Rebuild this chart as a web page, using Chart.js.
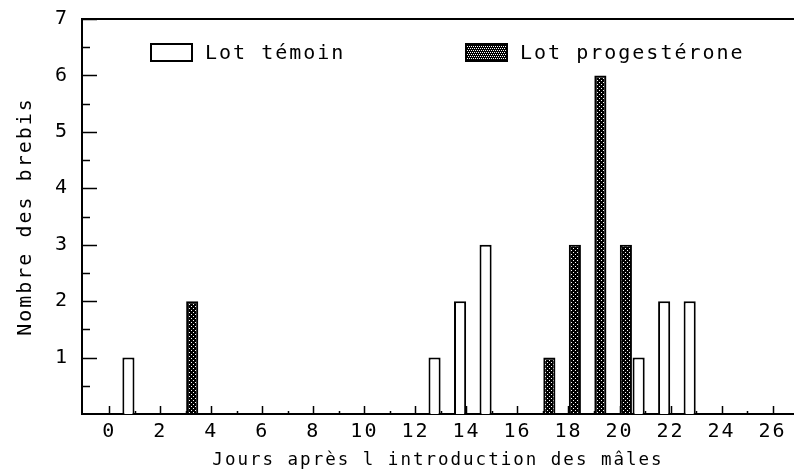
<!DOCTYPE html>
<html>
<head>
<meta charset="utf-8">
<script src="https://cdn.jsdelivr.net/npm/chart.js@4/dist/chart.umd.min.js"></script>
<style>
  html, body { margin: 0; padding: 0; background: #fff; }
  #wrap { width: 794px; height: 471px; }
</style>
</head>
<body>
<div id="wrap"><canvas id="c" width="794" height="471"></canvas></div>
<script>
// Days after the rams were introduced, and how many ewes in each lot
const temoinDays = [1, 13, 14, 15, 21, 22, 23];
const temoinCounts = [1, 1, 2, 3, 1, 2, 2];
const progDays = [3, 17, 18, 19, 20];
const progCounts = [2, 1, 3, 6, 3];
const seriesNames = ['Lot témoin', 'Lot progestérone'];

// Axis marks: one per day, labelled every second day; half-unit marks on the count axis
const xTickDays = [0, 1, 2, 3, 4, 5, 6, 7, 8, 9, 10, 11, 12, 13, 14, 15, 16, 17, 18, 19, 20, 21, 22, 23, 24, 25, 26];
const yTickValues = [0.5, 1, 1.5, 2, 2.5, 3, 3.5, 4, 4.5, 5, 5.5, 6, 6.5, 7];
const xAxisTitle = 'Jours après l introduction des mâles';
const yAxisTitle = 'Nombre des brebis';

const MONO = '"DejaVu Sans Mono", "Liberation Mono", monospace';
const canvas = document.getElementById('c');
const mainCtx = canvas.getContext('2d');

// Black fill speckled with white dots
function speckle(dots) {
  const tile = document.createElement('canvas');
  tile.width = 4; tile.height = 4;
  const g = tile.getContext('2d');
  g.fillStyle = '#000';
  g.fillRect(0, 0, 4, 4);
  g.fillStyle = '#fff';
  dots.forEach(([px, py]) => g.fillRect(px, py, 1, 1));
  return mainCtx.createPattern(tile, 'repeat');
}
const barPattern = speckle([[1, 0], [3, 2]]);
const keyPattern = speckle([[0, 0], [2, 0], [1, 2], [3, 2]]);

// Wide lettering for every text drawn on the canvas
const spacing = {
  id: 'spacing',
  beforeUpdate(chart) { chart.ctx.letterSpacing = '2px'; },
  beforeLayout(chart) { chart.ctx.letterSpacing = '2px'; },
  beforeDraw(chart) { chart.ctx.letterSpacing = '2px'; }
};

// Tick marks pointing into the plot
const innerTicks = {
  id: 'innerTicks',
  beforeDatasetsDraw(chart) {
    const { ctx, chartArea: a, scales: { x, y } } = chart;
    ctx.save();
    ctx.strokeStyle = '#000';
    ctx.lineWidth = 1.5;
    ctx.beginPath();
    xTickDays.forEach(d => {
      const px = Math.round(x.getPixelForValue(d)) + 0.5;
      const len = d % 2 === 0 ? 8 : 3;
      ctx.moveTo(px, a.bottom);
      ctx.lineTo(px, a.bottom - len);
    });
    yTickValues.forEach(v => {
      const py = Math.round(y.getPixelForValue(v)) + 0.5;
      const len = Number.isInteger(v) ? 15 : 8;
      ctx.moveTo(a.left, py);
      ctx.lineTo(a.left + len, py);
    });
    ctx.stroke();
    ctx.restore();
  }
};

// Key placed inside the plot, below the top frame line
const insetLegend = {
  id: 'insetLegend',
  afterDatasetsDraw(chart) {
    const { ctx, chartArea: a } = chart;
    const slots = [a.left + 68, a.left + 383];
    const fills = ['#fff', keyPattern];
    const top = a.top + 24, bw = 43, bh = 19;
    ctx.save();
    ctx.font = '20px ' + MONO;
    ctx.textBaseline = 'middle';
    chart.data.datasets.forEach((ds, i) => {
      const x = slots[i];
      ctx.fillStyle = fills[i];
      ctx.fillRect(x, top, bw, bh);
      ctx.lineWidth = 2;
      ctx.strokeStyle = '#000';
      ctx.strokeRect(x + 1, top + 1, bw - 2, bh - 2);
      ctx.fillStyle = '#000';
      ctx.fillText(ds.label, x + bw + 12, top + bh / 2 + 1);
    });
    ctx.restore();
  }
};

const tickFont = { family: MONO, size: 20 };

new Chart(canvas, {
  type: 'bar',
  data: {
    datasets: [
      {
        label: seriesNames[0],
        data: temoinDays.map((d, i) => ({ x: d, y: temoinCounts[i] })),
        backgroundColor: '#fff',
        borderColor: '#000',
        borderWidth: 2
      },
      {
        label: seriesNames[1],
        data: progDays.map((d, i) => ({ x: d, y: progCounts[i] })),
        backgroundColor: barPattern,
        borderColor: '#000',
        borderWidth: 2
      }
    ]
  },
  options: {
    responsive: false,
    animation: false,
    devicePixelRatio: 1,
    layout: { padding: 0 },
    datasets: { bar: { categoryPercentage: 1, barPercentage: 0.95, borderSkipped: 'start' } },
    plugins: {
      legend: { display: false },
      tooltip: { enabled: false }
    },
    scales: {
      x: {
        type: 'linear',
        position: 'bottom',
        offset: false,
        min: -1.07,
        max: 26.84,
        afterBuildTicks: s => { s.ticks = xTickDays.map(v => ({ value: v })); },
        afterFit: s => { s.height = 57; s.paddingLeft = 0; s.paddingRight = 0; },
        grid: { display: false, drawTicks: false, offset: false },
        border: { display: true, color: '#000', width: 2 },
        ticks: {
          autoSkip: false,
          maxRotation: 0,
          padding: 6,
          color: '#000',
          font: tickFont,
          callback: v => (v % 2 === 0 ? String(v) : '')
        },
        title: {
          display: true,
          text: xAxisTitle,
          color: '#000',
          font: { family: MONO, size: 17.5 },
          padding: { top: 0, bottom: 0 }
        }
      },
      x2: {
        type: 'linear',
        position: 'top',
        offset: false,
        afterFit: s => { s.height = 19; s.paddingLeft = 0; s.paddingRight = 0; },
        grid: { display: false, drawTicks: false },
        border: { display: true, color: '#000', width: 2 },
        ticks: { display: false }
      },
      y: {
        type: 'linear',
        min: 0,
        max: 7,
        afterBuildTicks: s => { s.ticks = yTickValues.map(v => ({ value: v })); },
        afterFit: s => { s.width = 82; s.paddingTop = 0; s.paddingBottom = 0; },
        grid: { display: false, drawTicks: false },
        border: { display: true, color: '#000', width: 2 },
        ticks: {
          padding: 13,
          color: '#000',
          font: tickFont,
          callback: v => (Number.isInteger(v) ? String(v) : '')
        },
        title: {
          display: true,
          text: yAxisTitle,
          color: '#000',
          font: { family: MONO, size: 20 },
          padding: { top: 14, bottom: 0 }
        }
      }
    }
  },
  plugins: [spacing, innerTicks, insetLegend]
});
</script>
</body>
</html>
